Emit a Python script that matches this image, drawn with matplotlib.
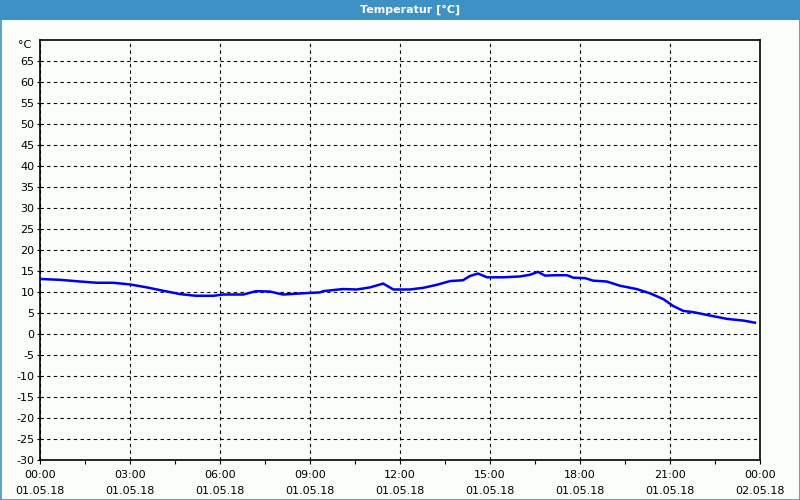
import matplotlib
matplotlib.use("Agg")
import matplotlib.pyplot as plt
from matplotlib.patches import Rectangle
import numpy as np

# Data (hours since 01.05.18 00:00, temperature in °C)
hours = [0.0, 0.67, 1.33, 1.89, 2.44, 3.0, 3.56, 4.1, 4.67, 5.2, 5.78, 6.1, 6.78,
         7.2, 7.67, 8.1, 8.78, 9.33, 9.44, 10.1, 10.56, 11.0, 11.44, 11.78, 12.33,
         12.78, 13.22, 13.67, 14.1, 14.33, 14.6, 14.9, 15.44, 16.0, 16.33, 16.6,
         16.83, 17.2, 17.56, 17.78, 18.17, 18.44, 18.89, 19.33, 19.89, 20.33, 20.78,
         21.1, 21.44, 21.78, 22.33, 22.9, 23.44, 23.83]
temps = [13.1, 12.9, 12.5, 12.2, 12.2, 11.8, 11.1, 10.3, 9.5, 9.1, 9.1, 9.4, 9.4,
         10.2, 10.1, 9.4, 9.7, 9.9, 10.2, 10.7, 10.6, 11.1, 12.0, 10.6, 10.6,
         11.0, 11.7, 12.6, 12.8, 13.8, 14.4, 13.5, 13.5, 13.7, 14.1, 14.8,
         13.9, 14.0, 14.0, 13.4, 13.3, 12.7, 12.5, 11.5, 10.7, 9.7, 8.3,
         6.7, 5.5, 5.2, 4.4, 3.6, 3.2, 2.7]

xtick_pos = [0, 3, 6, 9, 12, 15, 18, 21, 24]
xtick_labels = ["00:00\n01.05.18", "03:00\n01.05.18", "06:00\n01.05.18",
                "09:00\n01.05.18", "12:00\n01.05.18", "15:00\n01.05.18",
                "18:00\n01.05.18", "21:00\n01.05.18", "00:00\n02.05.18"]
yticks = list(range(-30, 66, 5))
title = "Temperatur [°C]"
unit = "°C"

plt.rcParams['font.family'] = ['DejaVu Sans']

bg = '#fbfdfb'
fig = plt.figure(figsize=(8, 5), dpi=100, facecolor=bg)

# title bar
fig.patches.append(Rectangle((0, 480/500), 1, 20/500, transform=fig.transFigure,
                             facecolor='#3d91c4', edgecolor='none', zorder=0))
fig.patches.append(Rectangle((0.5/800, 0.5/500), 799/800, 499/500, transform=fig.transFigure,
                             facecolor='none', edgecolor='#3d91c4', linewidth=1.2, zorder=5))
fig.text(410/800, 490/500, title, color='white', fontsize=8, fontweight='bold',
         ha='center', va='center')

ax = fig.add_axes([40/800, 40/500, 720/800, 420/500])
ax.set_facecolor(bg)
ax.plot(hours, temps, color='#0000ee', linewidth=1.8, solid_joinstyle='round', zorder=3)

ax.set_xlim(0, 24)
ax.set_ylim(-30, 70)
ax.set_yticks(yticks)
ax.set_yticklabels([str(v) for v in yticks])
ax.set_xticks(xtick_pos)
ax.set_xticklabels(xtick_labels, linespacing=1.75)
ax.set_xticks(np.arange(0, 24.1, 1.5), minor=True)

ax.grid(True, which='major', color='black', linestyle=(0, (3, 3)), linewidth=0.8)
ax.set_axisbelow(True)
for s in ax.spines.values():
    s.set_color('black')
    s.set_linewidth(1.2)

ax.tick_params(axis='x', which='both', direction='out', length=3, width=0.8,
               labelsize=8, pad=4, color='black')
ax.tick_params(axis='y', which='both', direction='out', length=2, width=0.8,
               labelsize=8, pad=2)
ax.text(-0.012, 70, unit, transform=ax.get_yaxis_transform(), ha='right', va='top',
        fontsize=8)

fig.savefig('out.png', dpi=100, facecolor=bg)
